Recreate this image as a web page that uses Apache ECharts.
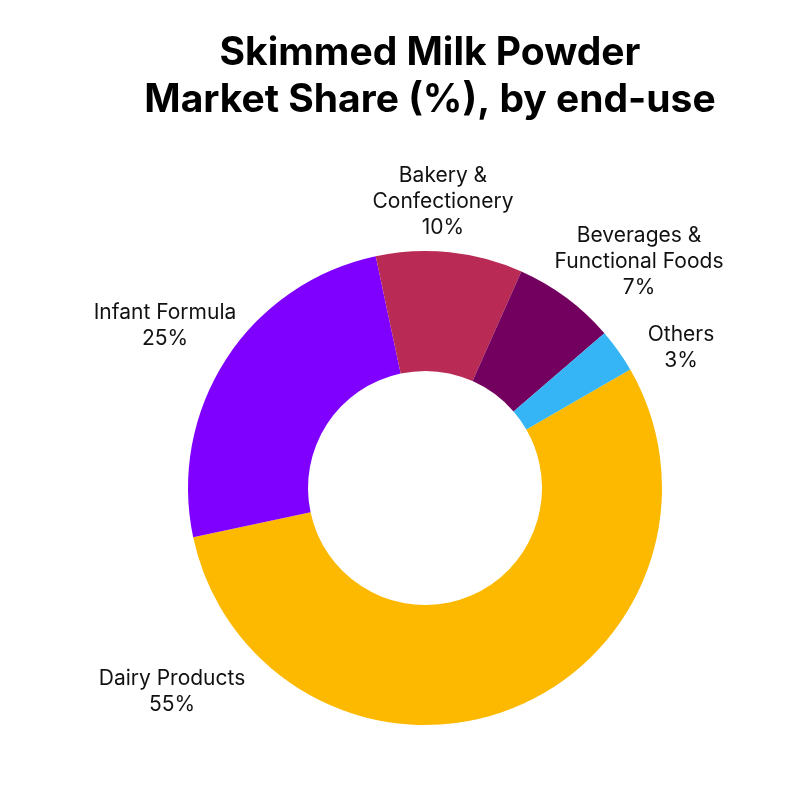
<!DOCTYPE html>
<html>
<head>
<meta charset="utf-8">
<script src="https://cdn.jsdelivr.net/npm/echarts@6/dist/echarts.min.js"></script>
<style>
html,body{margin:0;padding:0;background:#fff;}
#chart{width:805px;height:789px;}
</style>
</head>
<body>
<div id="chart"></div>
<script>
const categories = ['Dairy Products', 'Infant Formula', 'Bakery &\nConfectionery', 'Beverages &\nFunctional Foods', 'Others'];
const shares = [55, 25, 10, 7, 3];
const colors = ['#FDB900', '#7F00FF', '#B92A55', '#73005F', '#35B5F5'];
const labelPos = [[172, 692], [165, 326], [443, 202], [639, 262], [681, 348]];

const chart = echarts.init(document.getElementById('chart'));
chart.setOption({
  backgroundColor: '#ffffff',
  animation: false,
  title: {
    text: 'Skimmed Milk Powder\nMarket Share (%), by end-use',
    left: 425,
    top: 25,
    textAlign: 'center',
    textStyle: {
      fontFamily: 'Inter',
      fontWeight: 'bold',
      fontSize: 39,
      lineHeight: 47,
      color: '#000'
    }
  },
  series: [{
    type: 'pie',
    center: [425, 488],
    radius: [117, 237],
    startAngle: 30,
    clockwise: true,
    data: categories.map((c, i) => ({ name: c, value: shares[i], itemStyle: { color: colors[i] } })),
    label: {
      show: true,
      position: 'outside',
      alignTo: 'none',
      overflow: 'none',
      formatter: p => p.name + '\n' + p.value + '%',
      fontFamily: 'Inter',
      fontSize: 21,
      lineHeight: 26,
      color: '#111',
      align: 'center'
    },
    labelLine: { show: false },
    labelLayout: p => ({ x: labelPos[p.dataIndex][0], y: labelPos[p.dataIndex][1], align: 'center', verticalAlign: 'middle' }),
    emphasis: { disabled: true }
  }]
});
</script>
</body>
</html>
